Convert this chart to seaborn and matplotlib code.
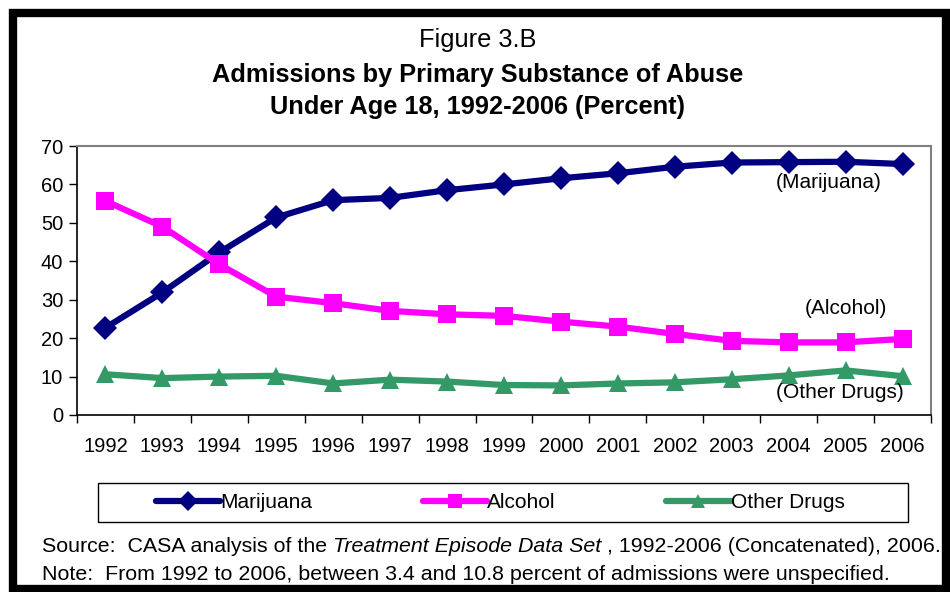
import matplotlib
matplotlib.use("Agg")
import matplotlib.pyplot as plt
import seaborn as sns
import pandas as pd
from matplotlib.patches import Rectangle

# data
years = list(range(1992, 2007))
marijuana = [22.7, 31.9, 42.3, 51.4, 55.9, 56.5, 58.5, 60.0, 61.6, 62.9, 64.6, 65.7, 65.8, 65.9, 65.3]
alcohol = [55.7, 49.0, 39.2, 30.8, 29.1, 27.1, 26.2, 25.8, 24.3, 23.0, 21.1, 19.3, 18.9, 18.9, 19.8]
other_drugs = [10.6, 9.6, 10.0, 10.2, 8.2, 9.2, 8.7, 7.8, 7.7, 8.2, 8.5, 9.3, 10.3, 11.6, 10.1]
series_names = ["Marijuana", "Alcohol", "Other Drugs"]
y_ticks = [0, 10, 20, 30, 40, 50, 60, 70]

title_small = "Figure 3.B"
title_bold = "Admissions by Primary Substance of Abuse\nUnder Age 18, 1992-2006 (Percent)"

df = pd.DataFrame({
    "Year": years * 3,
    "Percent": marijuana + alcohol + other_drugs,
    "Substance": sum([[n] * len(years) for n in series_names], []),
})

sns.set_theme(style="white")
plt.rcParams["font.family"] = ["Liberation Sans", "DejaVu Sans"]
plt.rcParams["text.color"] = "black"
plt.rcParams["xtick.color"] = "black"
plt.rcParams["ytick.color"] = "black"

palette = {"Marijuana": "#000080", "Alcohol": "#FF00FF", "Other Drugs": "#339966"}
markers = {"Marijuana": "D", "Alcohol": "s", "Other Drugs": "^"}

fig = plt.figure(figsize=(9.5, 5.92), dpi=100)
ax = fig.add_axes([77 / 950, 1 - 415 / 592, (931 - 77) / 950, (415 - 146) / 592])

sns.lineplot(data=df, x="Year", y="Percent", hue="Substance", style="Substance",
             palette=palette, markers=markers, dashes=False, linewidth=4.5,
             markersize=12.5, markeredgewidth=0, ax=ax, legend=False)

ax.set_xlim(1991.5, 2006.5)
ax.set_ylim(0, 70)
ax.set_yticks(y_ticks)
ax.set_xticks(years)
ax.set_xticklabels([str(y) for y in years])
ax.set_xticks([y - 0.5 for y in years] + [years[-1] + 0.5], minor=True)
ax.set_xlabel("")
ax.set_ylabel("")
ax.tick_params(axis="x", which="major", length=0, pad=16, labelsize=14.5)
ax.tick_params(axis="x", which="minor", length=6, width=1, color="black", direction="out", bottom=True)
ax.tick_params(axis="y", length=6, width=1, color="black", direction="out", left=True,
               labelsize=14.5, pad=4)
for side in ["top", "right"]:
    ax.spines[side].set_color("#808080")
    ax.spines[side].set_linewidth(1.5)
for side in ["left", "bottom"]:
    ax.spines[side].set_color("black")
    ax.spines[side].set_linewidth(1.2)

# series labels inside the plot
ax.text(2004.7, 60.6, "(Marijuana)", fontsize=15, ha="center", va="center")
ax.text(2005.0, 27.6, "(Alcohol)", fontsize=15, ha="center", va="center")
t = ax.text(2004.9, 5.9, "(Other Drugs)", fontsize=15, ha="center", va="center")
t.set_clip_path(Rectangle((1991.5, 3.4), 15, 70, transform=ax.transData))

# legend box and entries
fig.patches.append(Rectangle((98 / 950, 1 - 522 / 592), 810 / 950, 39 / 592,
                             transform=fig.transFigure, fill=False,
                             edgecolor="black", linewidth=1.0))
handles = ax.get_lines()[:3]
leg = fig.legend(handles, series_names, loc="center", ncol=3,
                 bbox_to_anchor=(500 / 950, 1 - 503 / 592),
                 fontsize=15, frameon=False, handlelength=3.1, handletextpad=0.0,
                 columnspacing=5.3, borderpad=0.2)
for h in leg.legend_handles:
    h.set_markersize(10)

# titles
fig.text(0.503, 1 - 40 / 592, title_small, ha="center", va="center", fontsize=18.3)
fig.text(0.503, 1 - 91 / 592, title_bold, ha="center", va="center", fontsize=18.3,
         fontweight="bold", linespacing=1.45)

# source and note
renderer = fig.canvas.get_renderer()
y_src = 1 - 547 / 592
t1 = fig.text(42 / 950, y_src, "Source:  CASA analysis of the ", fontsize=15.4, va="center")
x_cursor = 42 / 950 + t1.get_window_extent(renderer).width / 950
t2 = fig.text(x_cursor, y_src, "Treatment Episode Data Set", fontsize=15.4, va="center",
              style="italic")
x_cursor += t2.get_window_extent(renderer).width / 950
fig.text(x_cursor, y_src, " , 1992-2006 (Concatenated), 2006.", fontsize=15.4, va="center")
fig.text(42 / 950, 1 - 575 / 592,
         "Note:  From 1992 to 2006, between 3.4 and 10.8 percent of admissions were unspecified.",
         fontsize=15.4, va="center")

# thick outer frame
fig.patches.append(Rectangle((13 / 950, 3 / 592), 933 / 950, 576 / 592, transform=fig.transFigure,
                             fill=False, edgecolor="black", linewidth=6))

fig.savefig("out.png", dpi=100)
